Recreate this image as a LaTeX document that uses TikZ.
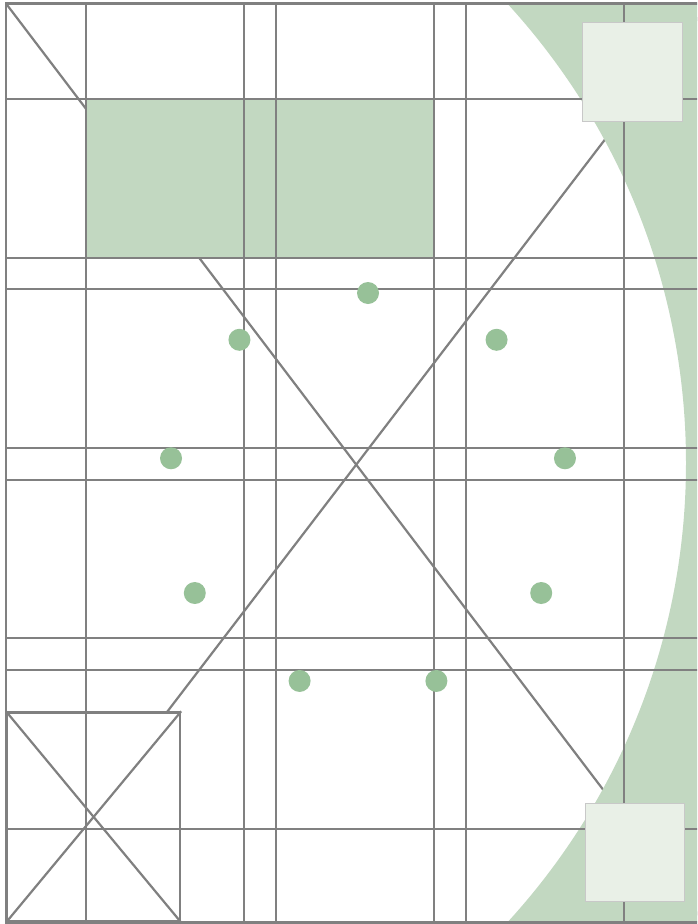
\documentclass[tikz,border=0pt]{standalone}
\usetikzlibrary{calc}
\definecolor{linegray}{RGB}{128,128,128}
\definecolor{sage}{RGB}{194,216,193}
\definecolor{dotgreen}{RGB}{151,193,152}
\definecolor{palegreen}{RGB}{233,240,231}
\definecolor{boxedge}{RGB}{200,200,200}
\tikzset{
  gridline/.style={draw=linegray, line width=1.3pt},
  diagline/.style={draw=linegray, line width=2.2pt},
  frameline/.style={draw=linegray, line width=2.6pt},
  palebox/.style={fill=palegreen, draw=boxedge, line width=1.5pt},
  gdot/.style={circle, fill=dotgreen, minimum size=22pt, inner sep=0pt},
}
\begin{document}
\begin{tikzpicture}[x=1pt,y=-1pt]
\useasboundingbox (0,0) rectangle (697,924);
\clip (0,0) rectangle (697,924);
\fill[white] (0,0) rectangle (697,924);
% frame corners
\coordinate (TL) at (6,3.5);
\coordinate (BR) at (704,922.5);
\coordinate (BL) at (6,922.5);
\coordinate (TR2) at (709,3.5);
% big diagonals
\draw[diagline] (TL) -- (BR);
\draw[diagline] (BL) -- (TR2);
% green region outside the big circle
\begin{scope}
\clip (TL) rectangle (BR);
\fill[sage, even odd rule] (-800,-800) rectangle (900,1800) (6,463) circle (680);
\end{scope}
% green block
\fill[sage] (86,99) rectangle (434,258);
% small crossed box
\node[draw=linegray, line width=2.2pt, fill=white, minimum width=173pt, minimum height=209pt, inner sep=0pt, anchor=south west] (sb) at (6,922.5) {};
\draw[diagline] (sb.south west) -- (sb.north east);
\draw[diagline] (sb.north west) -- (sb.south east);
% grid lines
\foreach \x in {86,244,276,434,466,624} \draw[gridline] (\x,3.5) -- (\x,922.5);
\foreach \y in {99,258,289,448,480,638,670,829} \draw[gridline] (6,\y) -- (704,\y);
% frame
\draw[frameline] (TL) rectangle (BR);
% pale squares
\node[palebox, minimum width=100pt, minimum height=99pt, inner sep=0pt, anchor=north west] (sqa) at (581.5,21.5) {};
\node[palebox, minimum width=99pt, minimum height=98pt, inner sep=0pt, anchor=north west] (sqb) at (584.5,802.5) {};
% dots on a circle
\coordinate (c) at (368,493);
\foreach \i in {0,...,8} {
  \node[gdot] (d\i) at ($(c)+({sin(40*\i)*200},{-cos(40*\i)*200})$) {};
}
\end{tikzpicture}
\end{document}
